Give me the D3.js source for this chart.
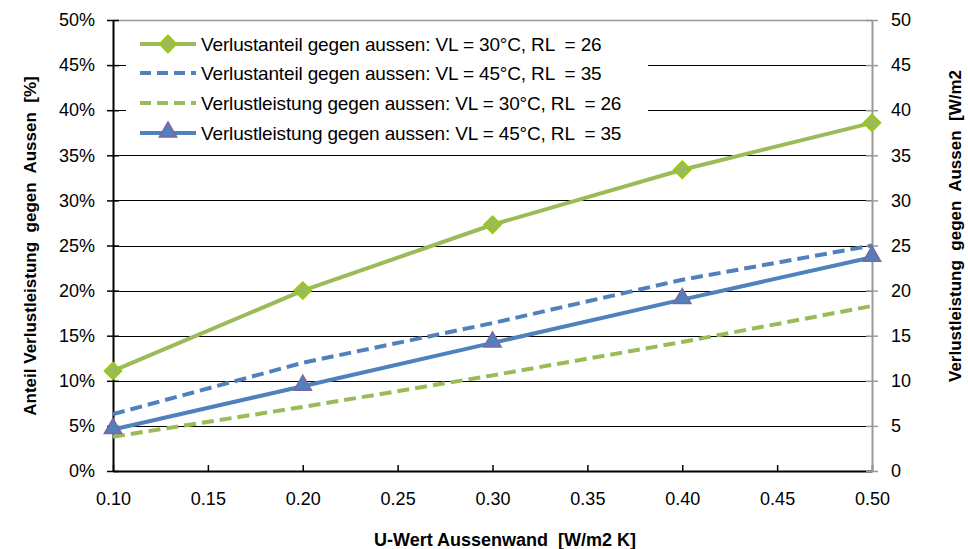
<!DOCTYPE html>
<html>
<head>
<meta charset="utf-8">
<script src="https://cdn.jsdelivr.net/npm/d3@7"></script>
<style>
  html, body { margin: 0; padding: 0; background: #fff; }
  svg text { font-family: "Liberation Sans", Arial, sans-serif; fill: #000; white-space: pre; }
</style>
</head>
<body>
<svg id="chart" width="968" height="549"></svg>
<script>
// U-value of the exterior wall (x axis)
const uValues = [0.10, 0.20, 0.30, 0.40, 0.50];

// Share of heat loss towards outside [%]
const anteil30 = [11.1, 20.0, 27.3, 33.4, 38.6];
const anteil45 = [6.3, 12.0, 16.4, 21.2, 25.0];

// Heat loss towards outside [W/m2]
const leistung30 = [3.8, 7.1, 10.6, 14.3, 18.3];
const leistung45 = [4.6, 9.4, 14.2, 19.0, 23.7];

const xTicks = [0.10, 0.15, 0.20, 0.25, 0.30, 0.35, 0.40, 0.45, 0.50];
const leftTicks = [0, 5, 10, 15, 20, 25, 30, 35, 40, 45, 50];
const rightTicks = [0, 5, 10, 15, 20, 25, 30, 35, 40, 45, 50];

const seriesNames = [
  "Verlustanteil gegen aussen: VL = 30°C, RL  = 26",
  "Verlustanteil gegen aussen: VL = 45°C, RL  = 35",
  "Verlustleistung gegen aussen: VL = 30°C, RL  = 26",
  "Verlustleistung gegen aussen: VL = 45°C, RL  = 35"
];

const GREEN = "#9BBB59", BLUE = "#4F81BD";

const svg = d3.select("#chart");
const plot = { left: 113, right: 872, top: 20, bottom: 471 };

const x = d3.scaleLinear().domain([0.10, 0.50]).range([plot.left, plot.right]);
const yL = d3.scaleLinear().domain([0, 50]).range([plot.bottom, plot.top]);
const yR = d3.scaleLinear().domain([0, 50]).range([plot.bottom, plot.top]);

// horizontal gridlines
svg.append("g").selectAll("line").data(leftTicks.slice(1, -1)).join("line")
  .attr("x1", plot.left).attr("x2", plot.right)
  .attr("y1", d => Math.round(yL(d)) + 0.5).attr("y2", d => Math.round(yL(d)) + 0.5)
  .attr("stroke", "#000").attr("stroke-width", 1);

// top border (grey)
svg.append("line").attr("x1", plot.left).attr("x2", plot.right)
  .attr("y1", plot.top + 0.5).attr("y2", plot.top + 0.5)
  .attr("stroke", "#999").attr("stroke-width", 1.5);

// legend background
const legend = svg.append("g");
legend.append("rect").attr("x", 126).attr("y", 26).attr("width", 522).attr("height", 124).attr("fill", "#fff");

// axes
const tickFont = g => g.selectAll("text").style("font-size", "18px")
  .style("font-family", "'Liberation Sans', Arial, sans-serif").attr("fill", "#000");

const gx = svg.append("g").attr("transform", `translate(0,${plot.bottom})`)
  .call(d3.axisBottom(x).tickValues(xTicks).tickFormat(d3.format(".2f")).tickSize(6).tickSizeOuter(0).tickPadding(15))
  .call(tickFont);
gx.select(".domain").attr("stroke", "#000").attr("stroke-width", 2);
gx.selectAll(".tick line").attr("stroke", "#000").attr("stroke-width", 1.5).attr("y1", -6).attr("y2", 0);

const gl = svg.append("g").attr("transform", `translate(${plot.left},0)`)
  .call(d3.axisLeft(yL).tickValues(leftTicks).tickFormat(d => d + "%").tickSize(6).tickSizeOuter(0).tickPadding(12))
  .call(tickFont);
gl.select(".domain").attr("stroke", "#000").attr("stroke-width", 2);
gl.selectAll(".tick line").attr("stroke", "#000").attr("stroke-width", 1.5).attr("x1", -6).attr("x2", 6);

const gr = svg.append("g").attr("transform", `translate(${plot.right},0)`)
  .call(d3.axisRight(yR).tickValues(rightTicks).tickSize(6).tickSizeOuter(0).tickPadding(13))
  .call(tickFont);
gr.select(".domain").attr("stroke", "#999").attr("stroke-width", 2);
gr.selectAll(".tick line").attr("stroke", "#999").attr("stroke-width", 1.5).attr("x1", -6).attr("x2", 6);
gr.selectAll("text").attr("text-anchor", "start");

// axis titles
svg.append("text").attr("x", 505).attr("y", 546).attr("text-anchor", "middle")
  .style("font-size", "18px").style("font-weight", "bold")
  .text("U-Wert Aussenwand  [W/m2 K]");
svg.append("text").attr("transform", "translate(36,246) rotate(-90)").attr("text-anchor", "middle")
  .style("font-size", "17px").style("font-weight", "bold")
  .text("Anteil Verlustleistung  gegen  Aussen  [%]");
svg.append("text").attr("transform", "translate(961,382) rotate(-90)").attr("text-anchor", "start")
  .style("font-size", "17px").style("font-weight", "bold")
  .text("Verlustleistung  gegen  Aussen  [W/m2");

// series
const series = [
  { values: anteil30, y: yL, color: GREEN, dash: null, marker: "diamond" },
  { values: anteil45, y: yL, color: BLUE, dash: "12,6", marker: null },
  { values: leistung30, y: yR, color: GREEN, dash: "12,6", marker: null },
  { values: leistung45, y: yR, color: BLUE, dash: null, marker: "triangle" }
];

const diamond = d3.symbol().type(d3.symbolDiamond2).size(190)();
const triangle = d3.symbol().type(d3.symbolTriangle).size(130)();

function drawMarker(g, type, cx, cy) {
  if (type === "diamond") {
    g.append("path").attr("d", diamond).attr("transform", `translate(${cx},${cy})`)
      .attr("fill", GREEN).attr("stroke", "#99CC00").attr("stroke-width", 1.5);
  } else if (type === "triangle") {
    g.append("path").attr("d", triangle).attr("transform", `translate(${cx},${cy - 1})`)
      .attr("fill", BLUE).attr("stroke", "#8064A2").attr("stroke-width", 1.5);
  }
}

const lineGroup = svg.append("g");
// dashed lines first, solid ones on top
[1, 2, 3, 0].forEach(i => {
  const s = series[i];
  const line = d3.line().x((d, j) => x(uValues[j])).y(d => s.y(d));
  lineGroup.append("path").datum(s.values).attr("d", line)
    .attr("fill", "none").attr("stroke", s.color).attr("stroke-width", 4)
    .attr("stroke-dasharray", s.dash);
});
[0, 3].forEach(i => {
  const s = series[i];
  s.values.forEach((v, j) => drawMarker(lineGroup, s.marker, x(uValues[j]), s.y(v)));
});

// legend entries
const legendY = [44, 73, 103, 133];
series.forEach((s, i) => {
  const ly = legendY[i];
  legend.append("line").attr("x1", 140).attr("x2", 196).attr("y1", ly).attr("y2", ly)
    .attr("stroke", s.color).attr("stroke-width", 4).attr("stroke-dasharray", s.dash ? "11,6" : null);
  if (s.marker) drawMarker(legend, s.marker, 168, ly);
  legend.append("text").attr("x", 201).attr("y", ly + 7).style("font-size", "19px")
    .style("letter-spacing", "-0.15px").text(seriesNames[i]);
});
</script>
</body>
</html>
